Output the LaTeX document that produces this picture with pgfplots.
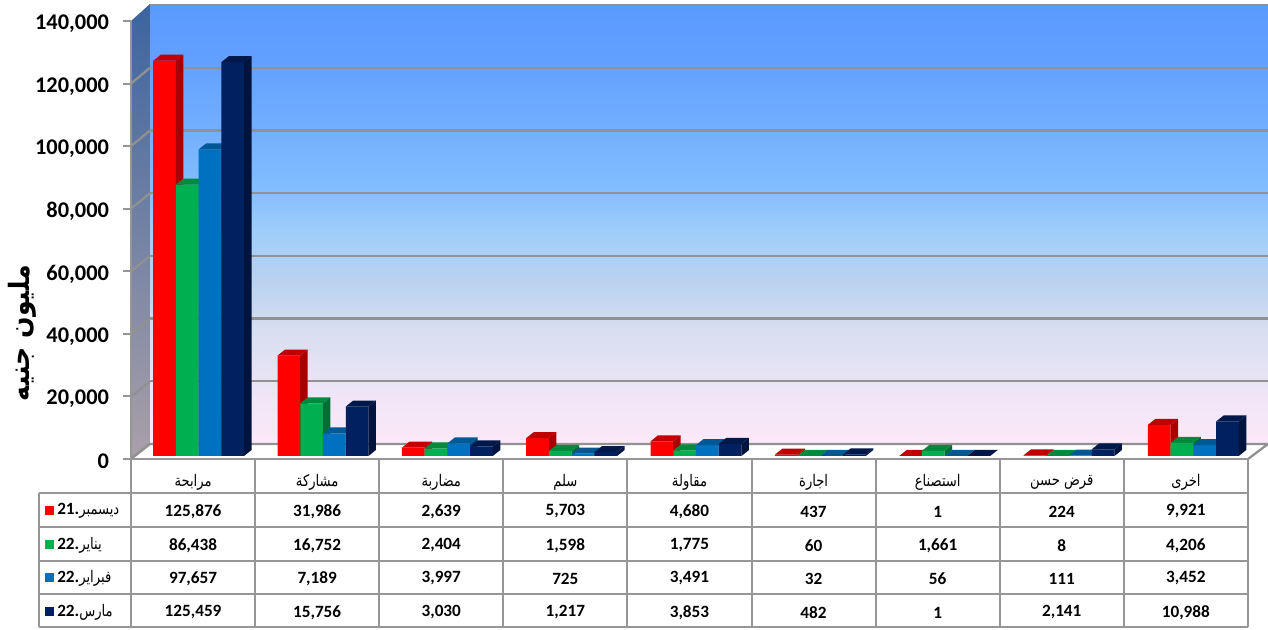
\documentclass[border=0pt]{standalone}
\usepackage{fontspec}
\usepackage{pgfplots}
\usepackage{pgfplotstable}
\pgfplotsset{compat=1.18,scaled ticks=false}
\TeXXeTstate=1
\setmainfont{Carlito}
\newfontfamily\arabicfont[Script=Arabic,FakeStretch=0.82]{DejaVu Sans}
\newfontfamily\arabicbold[Script=Arabic,FakeStretch=0.9]{DejaVu Sans Bold}
\newcommand{\ar}[1]{{\arabicfont\mdseries\fontsize{12}{14}\selectfont\beginR #1\endR}}
\definecolor{cRed}{RGB}{255,0,0}
\definecolor{cRedS}{RGB}{168,0,0}
\definecolor{cRedT}{RGB}{192,0,0}
\definecolor{cGrn}{RGB}{0,176,80}
\definecolor{cGrnS}{RGB}{0,110,50}
\definecolor{cGrnT}{RGB}{0,138,62}
\definecolor{cBlu}{RGB}{0,112,192}
\definecolor{cBluS}{RGB}{0,70,125}
\definecolor{cBluT}{RGB}{0,88,150}
\definecolor{cNav}{RGB}{0,32,96}
\definecolor{cNavS}{RGB}{0,20,62}
\definecolor{cNavT}{RGB}{0,24,74}
\definecolor{gridc}{RGB}{145,145,145}
\definecolor{tabc}{RGB}{150,150,150}
\definecolor{w0}{RGB}{253,232,248}
\definecolor{w1}{RGB}{240,230,248}
\definecolor{w2}{RGB}{215,222,240}
\definecolor{w3}{RGB}{185,210,240}
\definecolor{w4}{RGB}{160,205,250}
\definecolor{w5}{RGB}{130,190,255}
\definecolor{w6}{RGB}{115,175,255}
\definecolor{w7}{RGB}{98,160,255}
\definecolor{w8}{RGB}{90,155,255}
\pgfdeclareverticalshading{wall}{100bp}{color(0bp)=(w0);color(25bp)=(w0);color(30bp)=(w1);color(38bp)=(w2);color(43.6bp)=(w3);color(49.3bp)=(w4);color(53.9bp)=(w5);color(60.7bp)=(w6);color(68.6bp)=(w7);color(75bp)=(w8);color(100bp)=(w8)}
% bar depth in pt, half width, points per data unit
\def\bw{8.5pt}
\def\ddx{5.6pt}
\def\ddy{4.5pt}
\def\ppu{0.002355}
\newcommand{\declbar}[3]{%
\pgfdeclareplotmark{#1}{%
  \edef\hh{\fpeval{\myval*\ppu}}%
  \pgfsetfillcolor{#2}%
  \pgfpathmoveto{\pgfpoint{\bw}{0pt}}%
  \pgfpathlineto{\pgfpoint{\bw+\ddx}{\ddy}}%
  \pgfpathlineto{\pgfpoint{\bw+\ddx}{\ddy-\hh pt}}%
  \pgfpathlineto{\pgfpoint{\bw}{-\hh pt}}%
  \pgfpathclose\pgfusepath{fill}%
  \pgfsetfillcolor{#3}%
  \pgfpathmoveto{\pgfpoint{-\bw}{0pt}}%
  \pgfpathlineto{\pgfpoint{\bw}{0pt}}%
  \pgfpathlineto{\pgfpoint{\bw+\ddx}{\ddy}}%
  \pgfpathlineto{\pgfpoint{-\bw+\ddx}{\ddy}}%
  \pgfpathclose\pgfusepath{fill}%
}}
\declbar{barR}{cRedS}{cRedT}
\declbar{barG}{cGrnS}{cGrnT}
\declbar{barB}{cBluS}{cBluT}
\declbar{barN}{cNavS}{cNavT}
\pgfplotstableread{
idx dec jan feb mar
0 125876 86438 97657 125459
1 31986 16752 7189 15756
2 2639 2404 3997 3030
3 5703 1598 725 1217
4 4680 1775 3491 3853
5 437 60 32 482
6 1 1661 56 1
7 224 8 111 2141
8 9921 4206 3452 10988
}\datatable
\newcommand{\barseries}[4]{%
 \addplot[ybar,bar width=17pt,bar shift=0pt,draw=none,fill=#3] table[x expr=\coordindex+#2,y=#1]{\datatable};
 \addplot[scatter,only marks,mark=#4,scatter src=y,
   visualization depends on={rawy\as\myval},
   scatter/use mapped color={draw=none,fill=none}] table[x expr=\coordindex+#2,y=#1]{\datatable};
}
\begin{document}
\begin{tikzpicture}[x=0.75pt,y=0.75pt]
\useasboundingbox (0,0) rectangle (1268,629);
% back wall
\begin{axis}[at={(112.5pt,138.75pt)},anchor=south west,scale only axis,
  width=838.5pt,height=329.25pt,xmin=0,xmax=9,ymin=0,ymax=140000,
  xtick=\empty,ytick={0,20000,...,140000},yticklabels={},
  ymajorgrids,grid style={gridc,line width=1.7pt},
  major tick length=0pt,axis line style={draw=none},
  axis background/.style={shading=wall}]
\end{axis}
% left wall
\begin{scope}
\clip (131,{629-21})--(150,{629-4})--(150,{629-444})--(131,{629-459})--cycle;
\shade[top color={rgb,255:red,60;green,100;blue,160},bottom color={rgb,255:red,170;green,160;blue,168}] (131,{629-4}) rectangle (150,{629-459});
\end{scope}
\foreach \k in {0,...,6}{
  \draw[gridc,line width=1.7pt] (131,{629-(459-62.57*\k)})--(150,{629-(444-62.7*\k)});
}
% floor
\fill[white] (131,{629-459})--(1248,{629-459})--(1268,{629-444})--(150,{629-444})--cycle;
\draw[gridc,line width=1.7pt] (150,{629-444})--(1268,{629-444})--(1248,{629-459});
\draw[gridc,line width=1.7pt] (131,{629-459})--(150,{629-444});
% bars
\begin{axis}[at={(98.25pt,129.75pt)},anchor=south west,scale only axis,
  width=839.25pt,height=329.7pt,xmin=0,xmax=9,ymin=0,ymax=140000,
  hide axis,clip mode=individual,ytick=\empty,xtick=\empty]
\barseries{dec}{0.2700}{cRed}{barR}
\barseries{jan}{0.4529}{cGrn}{barG}
\barseries{feb}{0.6358}{cBlu}{barB}
\barseries{mar}{0.8187}{cNav}{barN}
\end{axis}
% front axis: value ticks and category names
\begin{axis}[at={(98.25pt,127.5pt)},anchor=south west,scale only axis,
  width=837.75pt,height=328.5pt,xmin=0,xmax=9,ymin=0,ymax=140000,
  axis x line*=bottom,axis y line*=left,
  axis line style={tabc,line width=1.5pt,-},
  ytick={0,20000,40000,60000,80000,100000,120000,140000},
  yticklabels={0,{20,000},{40,000},{60,000},{80,000},{100,000},{120,000},{140,000}},
  y tick style={tabc,line width=1.5pt},tick align=outside,major tick length=6pt,
  yticklabel style={font=\fontsize{16.8}{18}\selectfont\bfseries,xshift=-7pt,yshift=-2pt},
  xtick={0.5,1.5,2.5,3.5,4.5,5.5,6.5,7.5,8.5},x tick style={draw=none},
  xticklabels={\ar{مرابحة},\ar{مشاركة},\ar{مضاربة},\ar{سلم},\ar{مقاولة},\ar{اجارة},\ar{استصناع},\ar{قرض حسن},\ar{اخرى}},
  xticklabel style={anchor=center,yshift=-11.7pt}]
\end{axis}
% y label
\node[rotate=90,font=\arabicbold\fontsize{21}{25}\selectfont] at (22,{629-333}) {\beginR مليون جنيه\endR};
% data table
\foreach \yy in {493,527,561,594,627}{
  \draw[tabc,line width=1.5pt] (38.5,{629-\yy})--(1248,{629-\yy});
}
\draw[tabc,line width=1.5pt] (38.5,{629-493})--(38.5,{629-627});
\foreach \k in {0,...,9}{
  \draw[tabc,line width=1.5pt] ({131+124.1*\k},{629-459})--({131+124.1*\k},{629-627});
}
\newcommand{\rowvals}[2]{%
  \foreach \v [count=\i from 0] in {#2}{
    \node[font=\fontsize{12.9}{15}\selectfont\bfseries] at ({131+124.1*(\i+0.5)},{629-(#1+1.5)}) {\v};
  }}
\rowvals{510}{{125,876},{31,986},{2,639},{5,703},{4,680},437,1,224,{9,921}}
\rowvals{544}{{86,438},{16,752},{2,404},{1,598},{1,775},60,{1,661},8,{4,206}}
\rowvals{577}{{97,657},{7,189},{3,997},725,{3,491},32,56,111,{3,452}}
\rowvals{611}{{125,459},{15,756},{3,030},{1,217},{3,853},482,1,{2,141},{10,988}}
\newcommand{\legrow}[4]{%
  \fill[#2] (45,{629-(#1-4.5)}) rectangle (54,{629-(#1+4.5)});
  \node[anchor=west,inner sep=0pt,font=\fontsize{12.9}{15}\selectfont\bfseries] at (57,{629-(#1+1)}) {#3.\ar{#4}};
}
\legrow{510}{cRed}{21}{ديسمبر}
\legrow{544}{cGrn}{22}{يناير}
\legrow{577}{cBlu}{22}{فبراير}
\legrow{611}{cNav}{22}{مارس}
\end{tikzpicture}
\end{document}
